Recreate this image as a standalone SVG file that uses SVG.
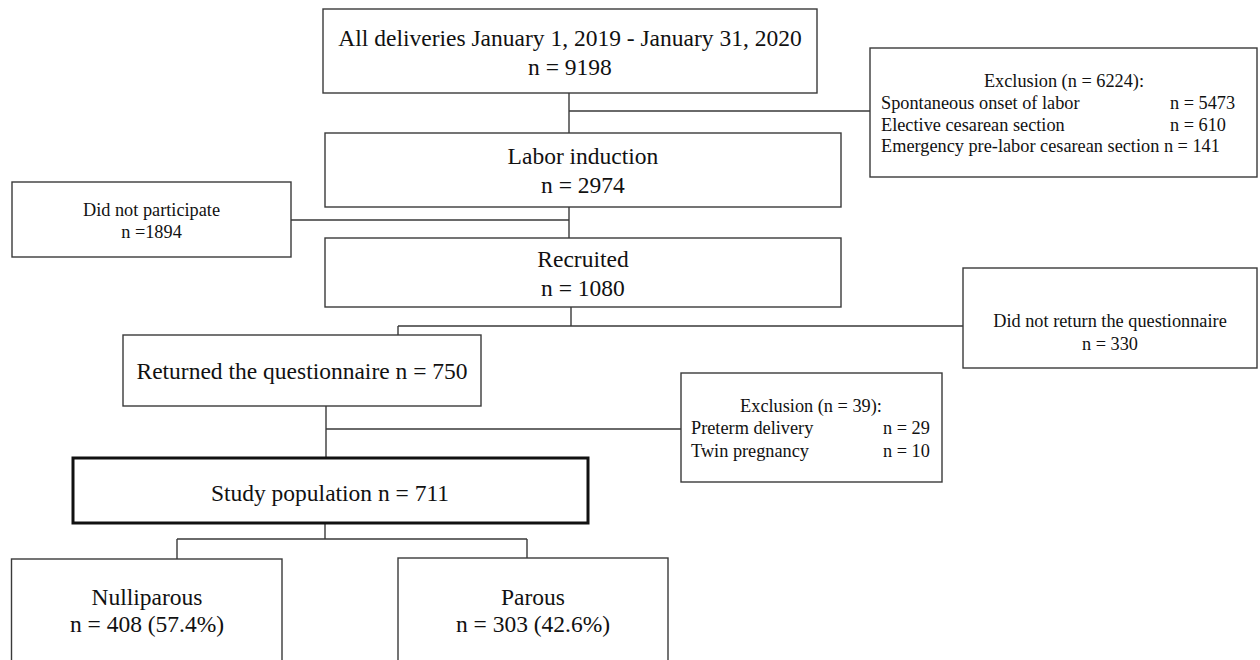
<svg xmlns="http://www.w3.org/2000/svg" width="1260" height="660" viewBox="0 0 1260 660">
<style>
.box{fill:#fff;stroke:#3a3a3a;stroke-width:1.4}
.thick{fill:#fff;stroke:#111;stroke-width:3}
.conn{fill:none;stroke:#3a3a3a;stroke-width:1.4}
.big{font-family:"Liberation Serif","Times New Roman",serif;font-size:23.5px;fill:#111;text-anchor:middle}
.sm{font-family:"Liberation Serif","Times New Roman",serif;font-size:18.3px;fill:#111}
.c{text-anchor:middle}
</style>
<rect width="1260" height="660" fill="#fff"/>
<g id="connectors">
<path class="conn" d="M569,93V133M569,111H870"/>
<path class="conn" d="M569,207V238M291,220H569"/>
<path class="conn" d="M571,307V326M398,326H963M398,326V335"/>
<path class="conn" d="M326,406V458M326,429H681"/>
<path class="conn" d="M325,523V539M177,539H527M177,539V559M527,539V558"/>
</g>
<g id="all-deliveries">
<rect class="box" x="323" y="9" width="494" height="84"/>
<text class="big" x="570" y="46">All deliveries January 1, 2019 - January 31, 2020</text>
<text class="big" x="570" y="75">n = 9198</text>
</g>
<g id="exclusion-1">
<rect class="box" x="870" y="48" width="387" height="129"/>
<text class="sm c" x="1064" y="87">Exclusion (n = 6224):</text>
<text class="sm" x="881" y="109">Spontaneous onset of labor</text>
<text class="sm" x="1170" y="109">n = 5473</text>
<text class="sm" x="881" y="131">Elective cesarean section</text>
<text class="sm" x="1170" y="131">n = 610</text>
<text class="sm" x="881" y="152">Emergency pre-labor cesarean section n = 141</text>
</g>
<g id="labor-induction">
<rect class="box" x="325" y="133" width="516" height="74"/>
<text class="big" x="583" y="164">Labor induction</text>
<text class="big" x="583" y="193">n = 2974</text>
</g>
<g id="did-not-participate">
<rect class="box" x="12" y="182" width="279" height="75"/>
<text class="sm c" x="151.5" y="216">Did not participate</text>
<text class="sm c" x="151.5" y="238">n =1894</text>
</g>
<g id="recruited">
<rect class="box" x="325" y="238" width="516" height="69"/>
<text class="big" x="583" y="267">Recruited</text>
<text class="big" x="583" y="296">n = 1080</text>
</g>
<g id="did-not-return">
<rect class="box" x="963" y="268" width="294" height="100"/>
<text class="sm c" x="1110" y="327">Did not return the questionnaire</text>
<text class="sm c" x="1110" y="350">n = 330</text>
</g>
<g id="returned">
<rect class="box" x="123" y="335" width="358" height="71"/>
<text class="big" x="302" y="379">Returned the questionnaire n = 750</text>
</g>
<g id="exclusion-2">
<rect class="box" x="681" y="373" width="261" height="109"/>
<text class="sm c" x="811" y="412">Exclusion (n = 39):</text>
<text class="sm" x="691" y="434">Preterm delivery</text>
<text class="sm" x="883" y="434">n = 29</text>
<text class="sm" x="691" y="457">Twin pregnancy</text>
<text class="sm" x="883" y="457">n = 10</text>
</g>
<g id="study-population">
<rect class="thick" x="73" y="458" width="515" height="65"/>
<text class="big" x="330" y="501">Study population n = 711</text>
</g>
<g id="nulliparous">
<rect class="box" x="11.5" y="559" width="270.5" height="120"/>
<text class="big" x="147" y="605">Nulliparous</text>
<text class="big" x="147" y="632">n = 408 (57.4%)</text>
</g>
<g id="parous">
<rect class="box" x="398" y="558" width="270" height="120"/>
<text class="big" x="533" y="605">Parous</text>
<text class="big" x="533" y="632">n = 303 (42.6%)</text>
</g>
</svg>
